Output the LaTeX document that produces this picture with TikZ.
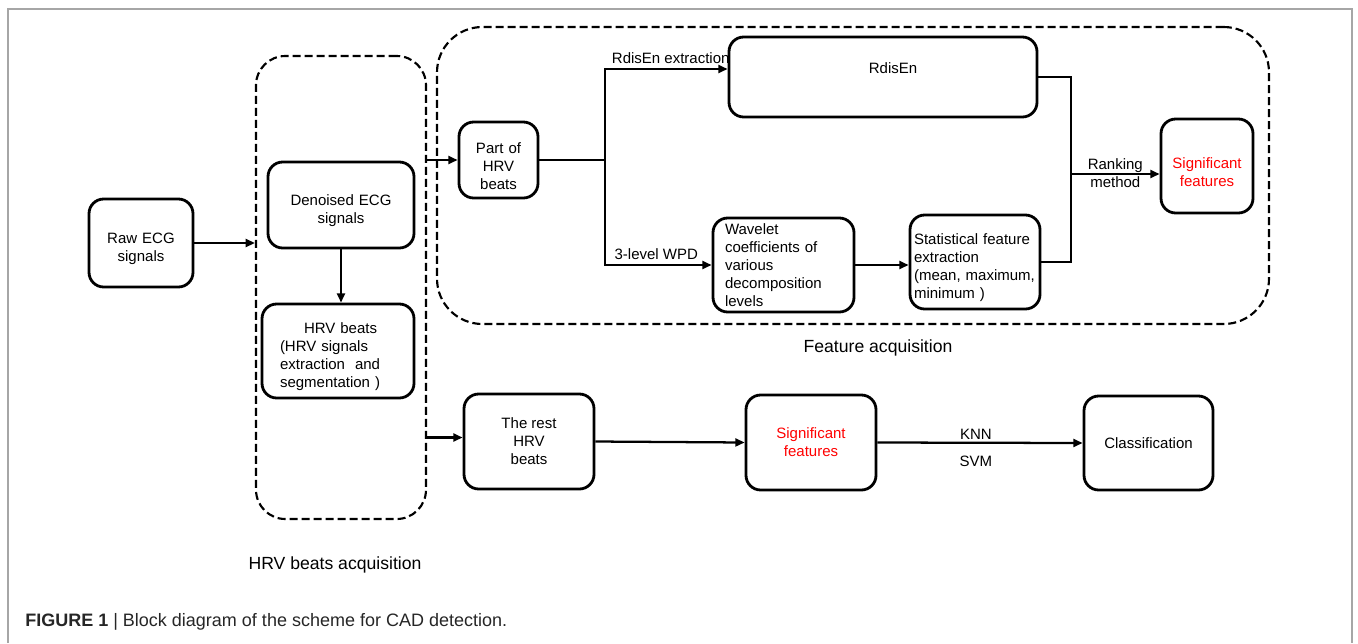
\documentclass[tikz,border=0pt]{standalone}
\usepackage{fontspec}
\setmainfont{Liberation Sans}
\usetikzlibrary{arrows.meta}

\newcommand{\boxfont}{\fontsize{11.25pt}{13.5pt}\selectfont}
\newcommand{\tagfont}{\fontsize{13.2pt}{15pt}\selectfont}
\newcommand{\capfont}{\fontsize{13.5pt}{16pt}\selectfont}

\tikzset{
  blk/.style={draw, line width=2.1pt, rounded corners=11pt, inner sep=0pt, align=center, font=\boxfont},
  lowtext/.style={execute at begin node={\rule{0pt}{17pt}}},
  grp/.style={draw, dash pattern=on 6pt off 3pt, line width=1.6pt, inner sep=0pt},
  wire/.style={line width=1.7pt},
  flow/.style={wire, -{Triangle[length=7pt,width=6pt]}},
}

\begin{document}
\begin{tikzpicture}[x=0.75pt, y=-0.75pt]
\useasboundingbox (0,0) rectangle (1358,643);
\draw[gray!70, line width=1pt] (8,643) -- (8,9) -- (1352,9) -- (1352,643);

% dashed groups
\node[grp, rounded corners=22pt, minimum width=127.5pt, minimum height=347.25pt] (hrvgrp) at (341,287.5) {};
\node[grp, rounded corners=34pt, minimum width=624pt, minimum height=222.75pt] (featgrp) at (853,175.5) {};

% blocks
\node[blk, lowtext, text width=78pt, minimum height=66pt] (raw) at (141,243) {Raw ECG\\signals};
\node[blk, lowtext, text width=109.5pt, minimum height=64.5pt] (denoised) at (341,205) {Denoised ECG\\signals};
\node[blk, lowtext, minimum height=70.5pt, align=left, inner xsep=13.5pt, text width=87pt] (hrvbeats) at (338,351) {\hspace*{18pt}HRV beats\\(HRV signals\\extraction\ \ and\\segmentation )};
\node[blk, lowtext, text width=59.25pt, minimum height=57pt] (part) at (498.5,160) {Part of\\HRV\\beats};
\node[blk, minimum width=231pt, minimum height=60pt, label={[font=\boxfont, xshift=7.5pt, yshift=6.75pt]center:RdisEn}] (rdisen) at (883,77) {};
\node[blk, align=left, inner xsep=9pt, text width=87.75pt, minimum height=70.5pt] (wavelet) at (783.5,265) {Wavelet\\coefficients of\\various\\decomposition\\levels};
\node[blk, lowtext, align=left, inner xsep=3pt, text width=91.5pt, minimum height=70.5pt] (stats) at (975,262) {Statistical feature\\extraction\\(mean, maximum,\\minimum )};
\node[blk, lowtext, text=red, text width=69pt, minimum height=70.5pt] (sigtop) at (1207,166) {Significant\\features};
\node[blk, minimum width=97.5pt, minimum height=71.25pt] (rest) at (529,441.5) {The rest\\HRV\\beats};
\node[blk, text=red, minimum width=97.5pt, minimum height=71.25pt] (sigbot) at (811,442.5) {Significant\\features};
\node[blk, minimum width=96.75pt, minimum height=70.5pt] (cls) at (1148.5,443) {Classification};

\coordinate (split) at (605,160);
\coordinate (merge) at (1071,174);

% connectors
\draw[flow] (raw.east) -- (raw.east -| hrvgrp.west);
\draw[flow] (denoised.south) -- (denoised.south |- hrvbeats.north);
\draw[flow] (part.west -| hrvgrp.east) -- (part.west);
\draw[wire] (part.east) -- (split);
\draw[flow] (split) |- ([yshift=6pt]rdisen.west) node[pos=0.5, anchor=south west, xshift=1pt, font=\boxfont] {RdisEn extraction};
\draw[flow] (split) |- (wavelet.west) node[pos=0.5, anchor=south west, xshift=3pt, font=\boxfont] {3-level WPD};
\draw[flow] (wavelet.east) -- (wavelet.east -| stats.west);
\draw[wire] (rdisen.east) -| (merge) |- (stats.east);
\draw[flow] (merge) -- (merge -| sigtop.west) node[midway, font=\boxfont, align=center, yshift=1pt] {Ranking\\method};
\draw[flow] ([yshift=3pt]rest.west -| hrvgrp.east) -- ([yshift=3pt]rest.west);
\draw[flow] (rest.east) -- (sigbot.west);
\draw[flow] (sigbot.east) -- (cls.west) node[pos=0.48, above=-2pt, font=\boxfont] {KNN} node[pos=0.48, below=6pt, font=\boxfont] {SVM};

% group titles and caption
\node[font=\tagfont] (featlbl) at (878,348) {Feature acquisition};
\node[font=\tagfont] (hrvlbl) at (335,565) {HRV beats acquisition};
\node[anchor=west, font=\capfont, text=black!85, inner sep=0pt] (caption) at (25,622) {\textbf{FIGURE 1} | Block diagram of the scheme for CAD detection.};
\end{tikzpicture}
\end{document}
